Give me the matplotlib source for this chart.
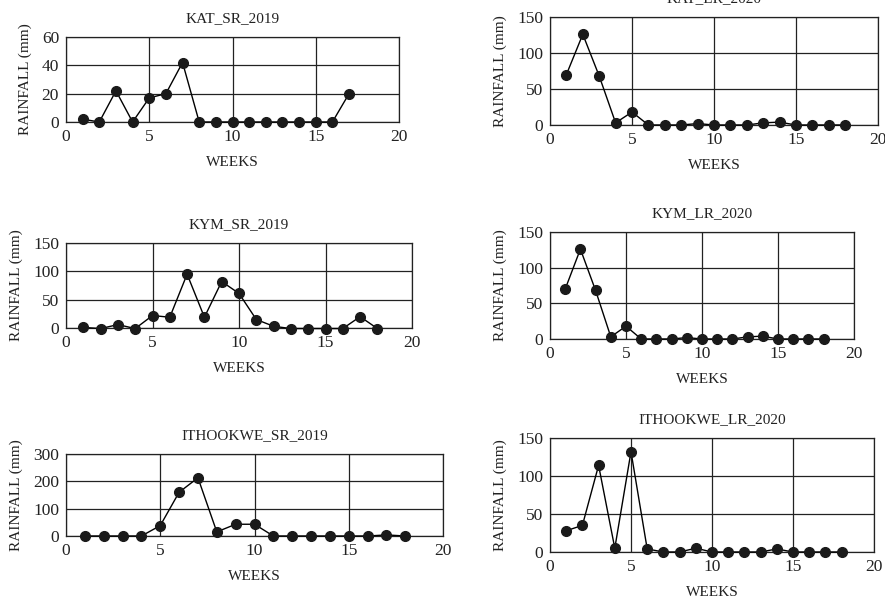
import matplotlib
matplotlib.use("Agg")
import matplotlib.pyplot as plt

plt.rcParams['font.family'] = ['Liberation Serif', 'DejaVu Serif']

W, H = 885, 603

titles = ["KAT_SR_2019", "KAT_LR_2020", "KYM_SR_2019", "KYM_LR_2020",
          "ITHOOKWE_SR_2019", "ITHOOKWE_LR_2020"]

kat_sr_2019 = [2, 0, 22, 0, 17, 20, 42, 0, 0, 0, 0, 0, 0, 0, 0, 0, 20]
kat_lr_2020 = [70, 126, 68, 3, 18, 0, 0, 0, 2, 0, 0, 0, 3, 4, 0, 0, 0, 0]
kym_sr_2019 = [1, -1, 6, -1, 22, 19, 95, 19, 82, 61, 15, 3, -1, -1, -1, -1, 20, -1]
kym_lr_2020 = [70, 126, 68, 3, 18, 0, 0, 0, 2, 0, 0, 0, 3, 4, 0, 0, 0, 0]
ith_sr_2019 = [0, 0, 0, 0, 38, 160, 213, 15, 43, 43, 0, 0, 0, 0, 0, 0, 4, 0]
ith_lr_2020 = [28, 35, 114, 5, 132, 4, 0, 0, 5, 0, 0, 0, 0, 4, 0, 0, 0, 0]

series = [kat_sr_2019, kat_lr_2020, kym_sr_2019, kym_lr_2020, ith_sr_2019, ith_lr_2020]
ymax = [60, 150, 150, 150, 300, 150]
ystep = [20, 50, 50, 50, 100, 50]

# axes boxes in pixels: left, right, top, bottom
boxes = [(66, 399, 37, 122), (550, 878, 17, 125),
         (66, 412, 243, 328), (550, 854, 232, 339),
         (66, 443, 454, 536), (550, 874, 438, 552)]

fig = plt.figure(figsize=(W / 100, H / 100), dpi=100)

for t, vals, ym, ys, (l, r, tp, b) in zip(titles, series, ymax, ystep, boxes):
    ax = fig.add_axes([l / W, 1 - b / H, (r - l) / W, (b - tp) / H])
    weeks = list(range(1, len(vals) + 1))
    ax.plot(weeks, vals, color='black', lw=1.0, marker='o', markersize=7,
            markerfacecolor='#1a1a1a', markeredgecolor='#1a1a1a', clip_on=False, zorder=3)
    ax.set_xlim(0, 20)
    ax.set_ylim(0, ym)
    ax.set_xticks([0, 5, 10, 15, 20])
    ax.set_yticks(list(range(0, ym + 1, ys)))
    ax.grid(True, color='#222222', lw=0.9)
    ax.set_axisbelow(True)
    for s in ax.spines.values():
        s.set_color('#222222')
        s.set_linewidth(0.9)
    ax.tick_params(length=0, labelsize=12.5, pad=5, colors='#222222')
    ax.set_title(t, fontsize=11, pad=11, color='#222222')
    ax.set_xlabel("WEEKS", fontsize=11, labelpad=8, color='#222222')
    ax.set_ylabel("RAINFALL (mm)", fontsize=11, labelpad=7, color='#222222')

fig.savefig("out.png", dpi=100)
